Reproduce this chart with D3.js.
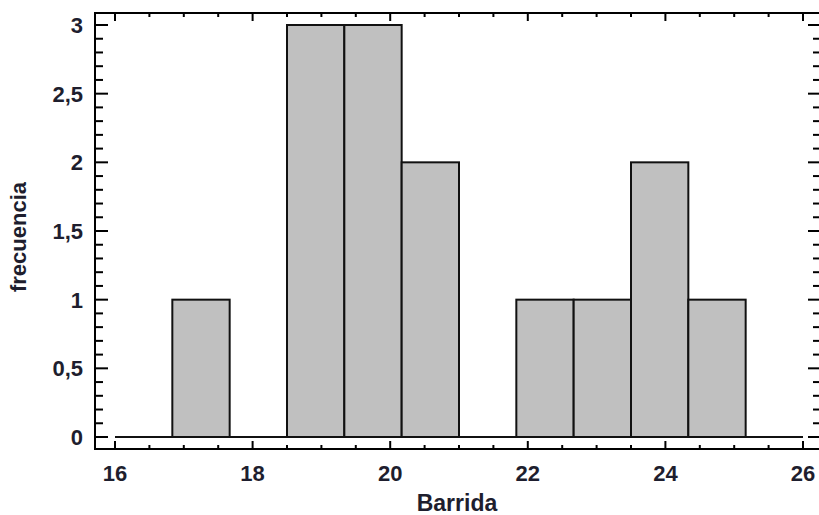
<!DOCTYPE html>
<html lang="es">
<head>
<meta charset="UTF-8">
<title>Histograma Barrida</title>
<script src="https://cdn.jsdelivr.net/npm/d3@7"></script>
<style>
    body { margin: 0; background: #fff; }
    text { font-family: "Liberation Sans", Arial, sans-serif; font-weight: bold; fill: #1e1e2e; }
    .frame { fill: none; stroke: #000; stroke-width: 2px; }
    .tick { stroke: #000; stroke-width: 2px; }
    .bar { fill: #c0c0c0; stroke: #111; stroke-width: 2px; }
    .base { stroke: #111; stroke-width: 2px; }
</style>
</head>
<body>
<svg width="819" height="515"></svg>
<script>
// bins of the histogram (lower edges, width = 10/12)
var binStart = [16, 16.8333, 17.6667, 18.5, 19.3333, 20.1667, 21, 21.8333, 22.6667, 23.5, 24.3333, 25.1667];
var binWidth = 10 / 12;
var counts = [0, 1, 0, 3, 3, 2, 0, 1, 1, 2, 1, 0];

var xTicks = [16, 18, 20, 22, 24, 26];
var yTicks = [0, 0.5, 1, 1.5, 2, 2.5, 3];

var svg = d3.select("svg");
var frame = {left: 95, right: 820, top: 13, bottom: 449};

var x = d3.scaleLinear().domain([16, 26]).range([115, 803]);
var y = d3.scaleLinear().domain([0, 3]).range([437, 25]);

var fmt = d3.formatLocale({decimal: ",", thousands: ".", grouping: [3], currency: ["", "€"]}).format("~g");

// bars
svg.selectAll(".bar")
    .data(binStart)
    .enter().append("rect")
    .attr("class", "bar")
    .attr("x", function (d) { return x(d); })
    .attr("width", function (d) { return x(d + binWidth) - x(d); })
    .attr("y", function (d, i) { return y(counts[i]); })
    .attr("height", function (d, i) { return y(0) - y(counts[i]); });

// zero line under all bins (empty bins show only this)
svg.append("line")
    .attr("class", "base")
    .attr("x1", x(binStart[0])).attr("x2", x(binStart[binStart.length - 1] + binWidth))
    .attr("y1", y(0)).attr("y2", y(0));

// frame
svg.append("rect")
    .attr("class", "frame")
    .attr("x", frame.left).attr("y", frame.top)
    .attr("width", frame.right - frame.left)
    .attr("height", frame.bottom - frame.top);

// x ticks (top and bottom), minor every 0.5
var xMinor = d3.range(16, 26.01, 0.5);
xMinor.forEach(function (v) {
    var major = Math.abs(v - Math.round(v / 2) * 2) < 1e-6;
    var len = major ? 8 : 4;
    svg.append("line").attr("class", "tick")
        .attr("x1", x(v)).attr("x2", x(v))
        .attr("y1", frame.bottom).attr("y2", frame.bottom - len);
    svg.append("line").attr("class", "tick")
        .attr("x1", x(v)).attr("x2", x(v))
        .attr("y1", frame.top).attr("y2", frame.top + len);
});

// y ticks (left and right), minor every 0.1
var yMinor = d3.range(0, 30.5, 1).map(function (d) { return d / 10; });
yMinor.forEach(function (v) {
    var major = Math.round(v * 10) % 5 === 0;
    svg.append("line").attr("class", "tick")
        .attr("x1", frame.left).attr("x2", frame.left + (major ? 13 : 8))
        .attr("y1", y(v)).attr("y2", y(v));
    svg.append("line").attr("class", "tick")
        .attr("x1", frame.right).attr("x2", frame.right - (major ? 12 : 7))
        .attr("y1", y(v)).attr("y2", y(v));
});

// tick labels
svg.selectAll(".xlab")
    .data(xTicks)
    .enter().append("text")
    .attr("x", function (d) { return x(d); })
    .attr("y", 481)
    .attr("text-anchor", "middle")
    .style("font-size", "22px")
    .text(function (d) { return fmt(d); });

svg.selectAll(".ylab")
    .data(yTicks)
    .enter().append("text")
    .attr("x", 83)
    .attr("y", function (d) { return y(d); })
    .attr("dy", "0.36em")
    .attr("text-anchor", "end")
    .style("font-size", "22px")
    .text(function (d) { return fmt(d); });

// axis titles
svg.append("text")
    .attr("x", 457).attr("y", 511)
    .attr("text-anchor", "middle")
    .style("font-size", "23px")
    .text("Barrida");

svg.append("text")
    .attr("transform", "translate(26,237) rotate(-90)")
    .attr("text-anchor", "middle")
    .style("font-size", "22px")
    .text("frecuencia");
</script>
</body>
</html>
